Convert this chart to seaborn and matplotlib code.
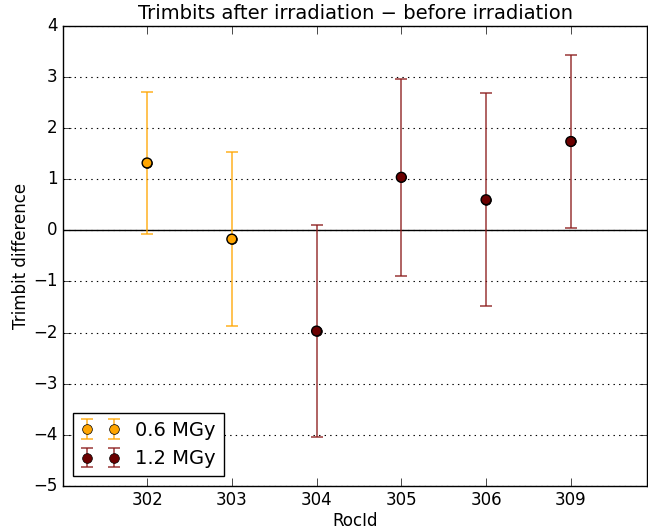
import matplotlib
matplotlib.use("Agg")
import matplotlib.pyplot as plt
import seaborn as sns
import pandas as pd
import numpy as np

roc_ids = ["302", "303", "304", "305", "306", "309"]
dose = ["0.6 MGy", "0.6 MGy", "1.2 MGy", "1.2 MGy", "1.2 MGy", "1.2 MGy"]
diff = [1.32, -0.17, -1.97, 1.04, 0.60, 1.74]
err = [1.39, 1.71, 2.07, 1.93, 2.08, 1.69]

df = pd.DataFrame({"RocId": roc_ids, "dose": dose, "diff": diff, "err": err})
df["pos"] = np.arange(len(df))

plt.style.use("classic")
sns.set_style("ticks", {"xtick.direction": "in", "ytick.direction": "in",
                        "axes.edgecolor": "black", "text.color": "black",
                        "axes.labelcolor": "black", "xtick.color": "black",
                        "ytick.color": "black"})
plt.rcParams["font.family"] = ["DejaVu Sans"]

fig = plt.figure(figsize=(6.48, 5.31), dpi=100, facecolor="white")
ax = fig.add_axes([0.0975, 0.085, 0.9010, 0.866])
ax.set_facecolor("white")

styles = {"0.6 MGy": dict(ecol="#FFA500", face="#FFA500"),
          "1.2 MGy": dict(ecol="#8B1A1A", face="#6B0000")}

for d, sub in df.groupby("dose", sort=True):
    st = styles[d]
    cont = ax.errorbar(sub["pos"], sub["diff"], yerr=sub["err"], fmt="o",
                       color=st["ecol"], ecolor=st["ecol"], elinewidth=1.2,
                       capsize=4, capthick=1.2,
                       markerfacecolor=st["face"], markeredgecolor="black",
                       markersize=7, label=d, zorder=3)
    for art in list(cont[1]) + list(cont[2]):
        art.set_alpha(0.8)

sns.scatterplot(data=df, x="pos", y="diff", hue="dose",
                palette={"0.6 MGy": "#FFA500", "1.2 MGy": "#6B0000"},
                edgecolor="black", linewidth=1, s=50, ax=ax,
                legend=False, zorder=4)

ax.axhline(0, color="black", lw=1, zorder=2)
ax.set_xlim(-0.99, 5.9)
ax.set_ylim(-5, 4)
ax.set_xticks(df["pos"])
ax.set_xticklabels(roc_ids, fontsize=12, color="black")
ax.set_yticks(np.arange(-5, 5, 1))
ax.set_yticklabels([str(v).replace("-", "\u2212") for v in range(-5, 5)],
                   fontsize=12, color="black")
ax.yaxis.grid(True, linestyle=":", color="black", lw=0.8)
ax.xaxis.grid(False)
ax.tick_params(direction="in", top=True, right=True, length=6, color="black")
for s in ax.spines.values():
    s.set_color("black")
ax.set_xlabel("RocId", fontsize=12, color="black", labelpad=2)
ax.set_ylabel("Trimbit difference", fontsize=12, color="black", labelpad=2)
ax.set_title("Trimbits after irradiation \u2212 before irradiation",
             fontsize=14, color="black")

leg = ax.legend(loc="lower left", numpoints=2, fontsize=14, fancybox=False,
                frameon=True, borderaxespad=0.5)
leg.get_frame().set_edgecolor("black")
for t in leg.get_texts():
    t.set_color("black")

fig.savefig("out.png", dpi=100, facecolor="white")
